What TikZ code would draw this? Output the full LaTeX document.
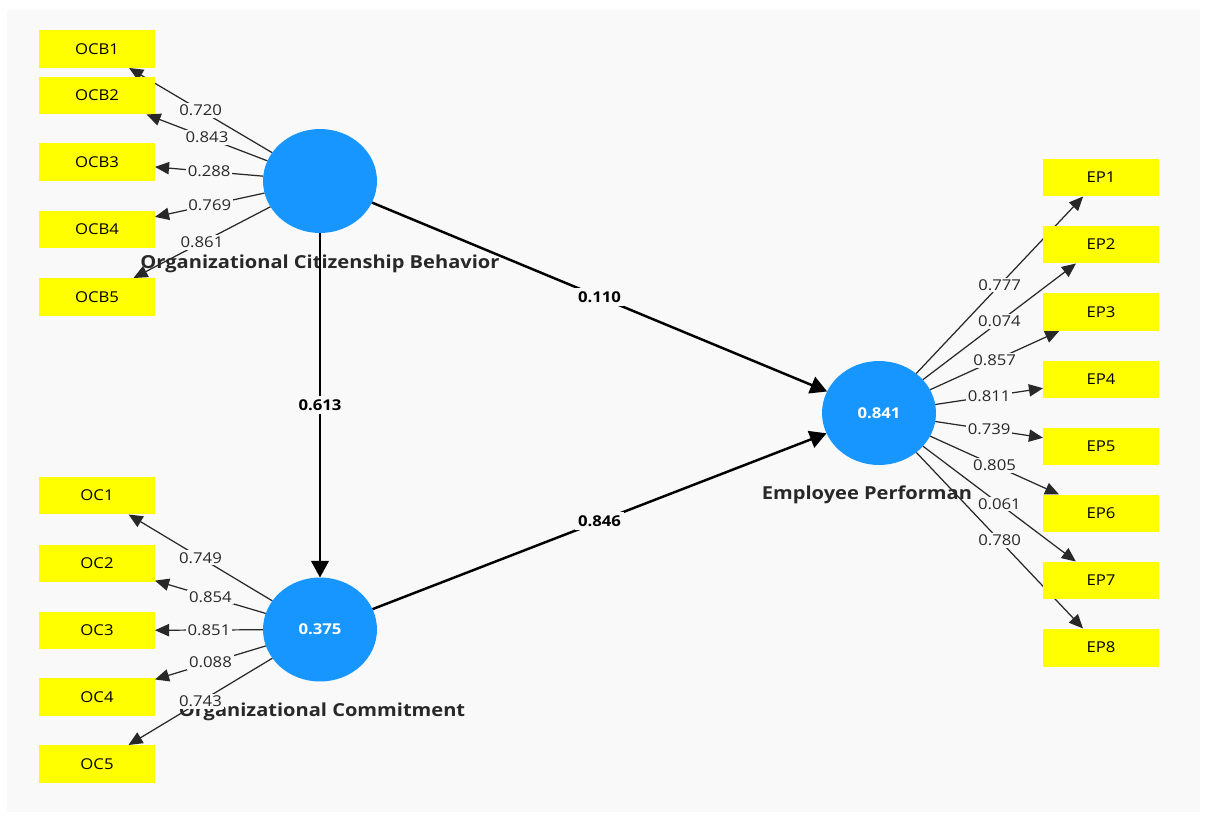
\documentclass[tikz,border=0pt]{standalone}
\usepackage{fontspec}
\setmainfont[FakeStretch=1.12]{Open Sans}
\usetikzlibrary{arrows.meta,backgrounds,shapes.geometric}

\definecolor{plsblue}{RGB}{24,150,255}
\definecolor{plsyellow}{RGB}{255,255,0}
\definecolor{canvas}{RGB}{249,249,249}
\definecolor{inkgray}{RGB}{40,40,40}

\tikzset{
  indicator/.style={fill=plsyellow, minimum width=2.32cm, minimum height=0.76cm, inner sep=0pt, outer sep=0pt, font=\fontsize{8.5}{10}\selectfont},
  construct/.style={ellipse, fill=plsblue, minimum width=2.28cm, minimum height=2.08cm, inner sep=0pt, outer sep=0pt, text=white, font=\fontsize{8.5}{10}\selectfont\bfseries},
  lvname/.style={text=inkgray, font=\fontsize{10.2}{12}\selectfont\bfseries, inner sep=0pt},
  loading/.style={draw=inkgray, line width=0.7pt, -{Triangle[length=8pt,width=7pt]}},
  loadval/.style={midway, fill=canvas, inner sep=1pt, text=inkgray, font=\fontsize{8.5}{10}\selectfont},
  path/.style={draw=black, line width=1.4pt, -{Triangle[length=9.5pt,width=10pt]}},
  pathval/.style={midway, fill=canvas, inner sep=2pt, font=\fontsize{8.5}{10}\selectfont\bfseries}
}

\begin{document}
\begin{tikzpicture}[x=0.02cm, y=-0.02cm]
\useasboundingbox (0,0) rectangle (1205,818);

% latent variables
\node[construct] (ocb) at (320,181) {};
\node[construct] (oc) at (320,629.5) {0.375};
\node[construct] (ep) at (879,413) {0.841};

% indicators
\node[indicator] (ocb1) at (97,49) {OCB1};
\node[indicator] (ocb2) at (97,95.5) {OCB2};
\node[indicator] (ocb3) at (97,162) {OCB3};
\node[indicator] (ocb4) at (97,229.5) {OCB4};
\node[indicator] (ocb5) at (97,297) {OCB5};

\node[indicator] (oc1) at (97,495.5) {OC1};
\node[indicator] (oc2) at (97,563.5) {OC2};
\node[indicator] (oc3) at (97,630.5) {OC3};
\node[indicator] (oc4) at (97,697) {OC4};
\node[indicator] (oc5) at (97,764) {OC5};

\node[indicator] (ep1) at (1101,177.5) {EP1};
\node[indicator] (ep2) at (1101,244.5) {EP2};
\node[indicator] (ep3) at (1101,312) {EP3};
\node[indicator] (ep4) at (1101,379.5) {EP4};
\node[indicator] (ep5) at (1101,446.5) {EP5};
\node[indicator] (ep6) at (1101,513.5) {EP6};
\node[indicator] (ep7) at (1101,580.5) {EP7};
\node[indicator] (ep8) at (1101,647.5) {EP8};

\begin{scope}[on background layer]
\fill[canvas] (7,10) rectangle (1200,812);

% names under the circles
\node[lvname] (ocbname) at (320,264) {Organizational Citizenship Behavior};
\node[lvname] (ocname) at (322,712) {Organizational Commitment};
\node[lvname] (epname) at (867,495) {Employee Performan};

% outer loadings
\draw[loading] (ocb) -- node[loadval] {0.720} (ocb1);
\draw[loading] (ocb) -- node[loadval] {0.843} (ocb2);
\draw[loading] (ocb) -- node[loadval] {0.288} (ocb3);
\draw[loading] (ocb) -- node[loadval] {0.769} (ocb4);
\draw[loading] (ocb) -- node[loadval] {0.861} (ocb5);

\draw[loading] (oc) -- node[loadval] {0.749} (oc1);
\draw[loading] (oc) -- node[loadval] {0.854} (oc2);
\draw[loading] (oc) -- node[loadval] {0.851} (oc3);
\draw[loading] (oc) -- node[loadval] {0.088} (oc4);
\draw[loading] (oc) -- node[loadval] {0.743} (oc5);

\draw[loading] (ep) -- node[loadval] {0.777} (ep1);
\draw[loading] (ep) -- node[loadval] {0.074} (ep2);
\draw[loading] (ep) -- node[loadval] {0.857} (ep3);
\draw[loading] (ep) -- node[loadval] {0.811} (ep4);
\draw[loading] (ep) -- node[loadval] {0.739} (ep5);
\draw[loading] (ep) -- node[loadval] {0.805} (ep6);
\draw[loading] (ep) -- node[loadval] {0.061} (ep7);
\draw[loading] (ep) -- node[loadval] {0.780} (ep8);

% path coefficients
\draw[path] (ocb) -- node[pathval] {0.110} (ep);
\draw[path] (ocb) -- node[pathval] {0.613} (oc);
\draw[path] (oc) -- node[pathval] {0.846} (ep);
\end{scope}
\end{tikzpicture}
\end{document}
